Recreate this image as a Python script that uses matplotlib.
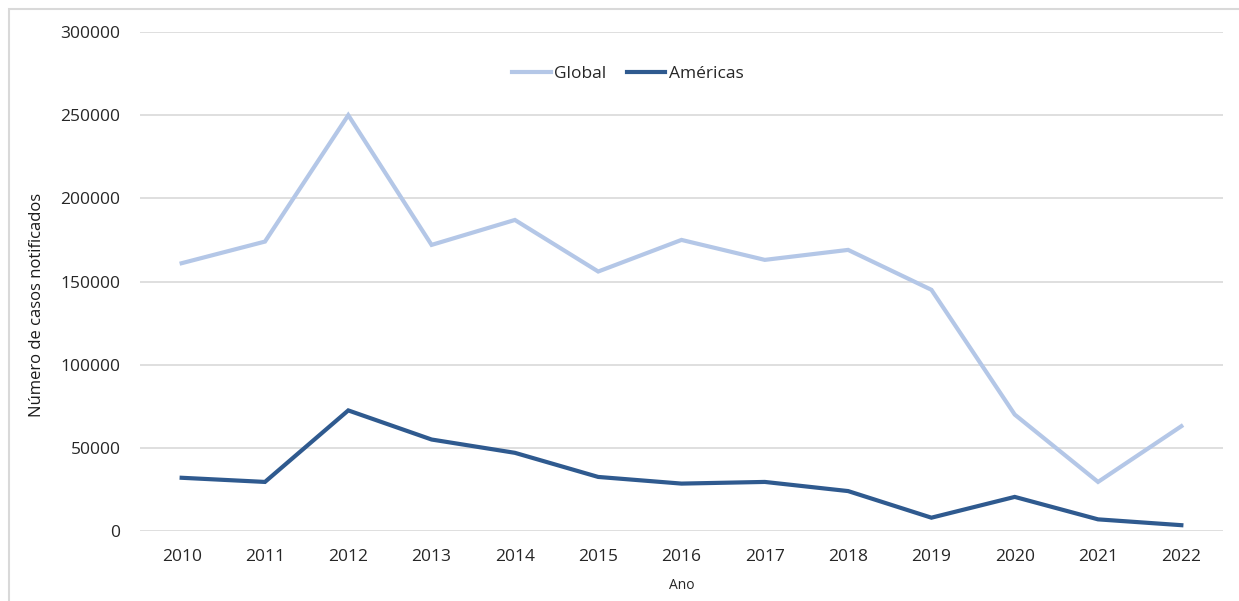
import matplotlib.pyplot as plt
from matplotlib.patches import Rectangle

# anos e casos notificados
anos = [2010, 2011, 2012, 2013, 2014, 2015, 2016, 2017, 2018, 2019, 2020, 2021, 2022]
global_casos = [161000, 174000, 250000, 172000, 187000, 156000, 175000, 163000, 169000, 145000, 70000, 29500, 63000]
americas_casos = [32000, 29500, 72500, 55000, 47000, 32500, 28500, 29500, 24000, 8000, 20500, 7000, 3500]

plt.rcParams['font.family'] = ['Open Sans', 'DejaVu Sans']

W, H = 1239, 601
fig = plt.figure(figsize=(W / 100, H / 100), dpi=100)
ax = fig.add_axes([140 / W, 1 - 531 / H, (1223 - 140) / W, (531 - 32) / H])

x = range(len(anos))
ax.plot(x, global_casos, color='#B4C7E7', lw=3, label='Global', solid_joinstyle='miter')
ax.plot(x, americas_casos, color='#2F5A8F', lw=3, label='Américas', solid_joinstyle='miter')

ax.set_xlim(-0.5, len(anos) - 0.5)
ax.set_ylim(0, 300000)
ax.set_xticks(list(x))
ax.set_xticklabels([str(a) for a in anos])
ax.set_yticks(range(0, 300001, 50000))
ax.tick_params(length=0, labelsize=12.5, colors='#262626', pad=13)
ax.tick_params(axis='y', pad=14)
ax.yaxis.grid(True, color='#D9D9D9', lw=1.2)
ax.set_axisbelow(True)
for s in ax.spines.values():
    s.set_visible(False)

ax.set_xlabel('Ano', fontsize=10, color='#262626', labelpad=9)
fig.text(37 / W, 1 - 305 / H, 'Número de casos notificados', rotation=90,
         ha='center', va='center', fontsize=12, color='#1a1a1a')

ax.legend(loc='center', bbox_to_anchor=(628 / W, 1 - 74 / H), bbox_transform=fig.transFigure,
          ncol=2, frameon=False, fontsize=12.5, handlelength=2.2, handletextpad=0.2,
          columnspacing=1.2, labelcolor='#262626')

# borda cinza clara do grafico
fig.patches.append(Rectangle((9 / W, -0.1), 1.2, 1 - 9 / H + 0.1, transform=fig.transFigure,
                             fill=False, edgecolor='#D9D9D9', lw=1.5))

fig.savefig('out.png', dpi=100)
